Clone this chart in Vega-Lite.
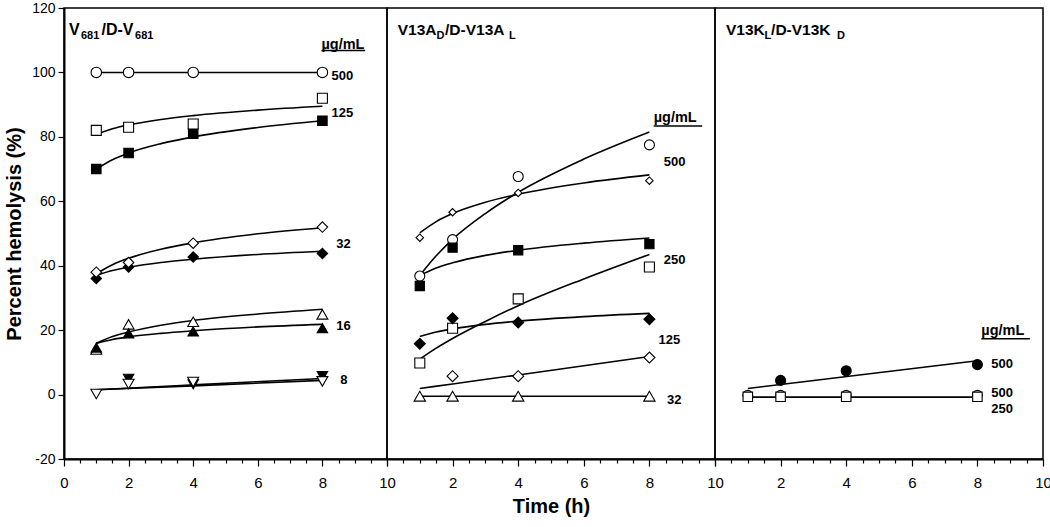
{
  "$schema": "https://vega.github.io/schema/vega-lite/v6.json",
  "padding": {"left": 3, "top": 0, "right": 0, "bottom": 0},
  "background": "white",
  "spacing": 0,
  "bounds": "flush",
  "resolve": {"scale": {"shape": "independent", "fill": "independent", "size": "independent", "x": "independent", "y": "independent"}},
  "config": {
    "font": "Liberation Sans",
    "view": {"stroke": "black", "strokeWidth": 1.5},
    "axis": {"grid": false, "domainColor": "black", "tickColor": "black", "labelColor": "black", "titleColor": "black", "labelFont": "Liberation Sans", "titleFont": "Liberation Sans"}
  },
  "datasets": {
    "pts": [
      {"panel": "A", "series": "A1", "t": 1, "v": 100}, {"panel": "A", "series": "A1", "t": 2, "v": 100}, {"panel": "A", "series": "A1", "t": 4, "v": 100}, {"panel": "A", "series": "A1", "t": 8, "v": 100},
      {"panel": "A", "series": "A3", "t": 1, "v": 70}, {"panel": "A", "series": "A3", "t": 2, "v": 75}, {"panel": "A", "series": "A3", "t": 4, "v": 81}, {"panel": "A", "series": "A3", "t": 8, "v": 85},
      {"panel": "A", "series": "A2", "t": 1, "v": 82}, {"panel": "A", "series": "A2", "t": 2, "v": 83}, {"panel": "A", "series": "A2", "t": 4, "v": 84}, {"panel": "A", "series": "A2", "t": 8, "v": 92},
      {"panel": "A", "series": "A5", "t": 1, "v": 36}, {"panel": "A", "series": "A5", "t": 2, "v": 39.6}, {"panel": "A", "series": "A5", "t": 4, "v": 42.7}, {"panel": "A", "series": "A5", "t": 8, "v": 43.8},
      {"panel": "A", "series": "A4", "t": 1, "v": 38}, {"panel": "A", "series": "A4", "t": 2, "v": 41}, {"panel": "A", "series": "A4", "t": 4, "v": 47}, {"panel": "A", "series": "A4", "t": 8, "v": 52},
      {"panel": "A", "series": "A6", "t": 1, "v": 14}, {"panel": "A", "series": "A6", "t": 2, "v": 21.8}, {"panel": "A", "series": "A6", "t": 4, "v": 22.6}, {"panel": "A", "series": "A6", "t": 8, "v": 24.9},
      {"panel": "A", "series": "A7", "t": 1, "v": 14.6}, {"panel": "A", "series": "A7", "t": 2, "v": 19}, {"panel": "A", "series": "A7", "t": 4, "v": 19.6}, {"panel": "A", "series": "A7", "t": 8, "v": 20.6},
      {"panel": "A", "series": "A9", "t": 2, "v": 4.9}, {"panel": "A", "series": "A9", "t": 4, "v": 3.2}, {"panel": "A", "series": "A9", "t": 8, "v": 5.7},
      {"panel": "A", "series": "A8", "t": 1, "v": 0.2}, {"panel": "A", "series": "A8", "t": 2, "v": 3.3}, {"panel": "A", "series": "A8", "t": 4, "v": 3.9}, {"panel": "A", "series": "A8", "t": 8, "v": 4.1},
      {"panel": "B", "series": "B1", "t": 1, "v": 36.8}, {"panel": "B", "series": "B1", "t": 2, "v": 48.1}, {"panel": "B", "series": "B1", "t": 4, "v": 67.7}, {"panel": "B", "series": "B1", "t": 8, "v": 77.5},
      {"panel": "B", "series": "B2", "t": 1, "v": 48.7}, {"panel": "B", "series": "B2", "t": 2, "v": 56.6}, {"panel": "B", "series": "B2", "t": 4, "v": 62.6}, {"panel": "B", "series": "B2", "t": 8, "v": 66.4},
      {"panel": "B", "series": "B3", "t": 1, "v": 33.7}, {"panel": "B", "series": "B3", "t": 2, "v": 45.6}, {"panel": "B", "series": "B3", "t": 4, "v": 44.8}, {"panel": "B", "series": "B3", "t": 8, "v": 46.7},
      {"panel": "B", "series": "B4", "t": 1, "v": 9.8}, {"panel": "B", "series": "B4", "t": 2, "v": 20.6}, {"panel": "B", "series": "B4", "t": 4, "v": 29.7}, {"panel": "B", "series": "B4", "t": 8, "v": 39.6},
      {"panel": "B", "series": "B5", "t": 1, "v": 15.8}, {"panel": "B", "series": "B5", "t": 2, "v": 23.7}, {"panel": "B", "series": "B5", "t": 4, "v": 22.4}, {"panel": "B", "series": "B5", "t": 8, "v": 23.4},
      {"panel": "B", "series": "B6", "t": 2, "v": 5.7}, {"panel": "B", "series": "B6", "t": 4, "v": 5.7}, {"panel": "B", "series": "B6", "t": 8, "v": 11.5},
      {"panel": "B", "series": "B7", "t": 1, "v": -0.5}, {"panel": "B", "series": "B7", "t": 2, "v": -0.5}, {"panel": "B", "series": "B7", "t": 4, "v": -0.5}, {"panel": "B", "series": "B7", "t": 8, "v": -0.5},
      {"panel": "C", "series": "C1", "t": 2, "v": 4.4}, {"panel": "C", "series": "C1", "t": 4, "v": 7.4}, {"panel": "C", "series": "C1", "t": 8, "v": 9.3},
      {"panel": "C", "series": "C2", "t": 1, "v": -0.2}, {"panel": "C", "series": "C2", "t": 2, "v": -0.2}, {"panel": "C", "series": "C2", "t": 4, "v": -0.2}, {"panel": "C", "series": "C2", "t": 8, "v": -0.2},
      {"panel": "C", "series": "C3", "t": 1, "v": -0.7}, {"panel": "C", "series": "C3", "t": 2, "v": -0.7}, {"panel": "C", "series": "C3", "t": 4, "v": -0.7}, {"panel": "C", "series": "C3", "t": 8, "v": -0.7}
    ],
    "fits": [
      {"panel": "A", "series": "A1", "t": 1, "v": 100}, {"panel": "A", "series": "A1", "t": 8, "v": 100},
      {"panel": "A", "series": "A2", "t": 1, "v": 80.8}, {"panel": "A", "series": "A2", "t": 1.5, "v": 82.5}, {"panel": "A", "series": "A2", "t": 2, "v": 83.7}, {"panel": "A", "series": "A2", "t": 3, "v": 85.4}, {"panel": "A", "series": "A2", "t": 4, "v": 86.6}, {"panel": "A", "series": "A2", "t": 6, "v": 88.3}, {"panel": "A", "series": "A2", "t": 8, "v": 89.5},
      {"panel": "A", "series": "A3", "t": 1, "v": 70}, {"panel": "A", "series": "A3", "t": 1.5, "v": 72.9}, {"panel": "A", "series": "A3", "t": 2, "v": 75}, {"panel": "A", "series": "A3", "t": 3, "v": 77.9}, {"panel": "A", "series": "A3", "t": 4, "v": 80}, {"panel": "A", "series": "A3", "t": 6, "v": 82.9}, {"panel": "A", "series": "A3", "t": 8, "v": 85},
      {"panel": "A", "series": "A4", "t": 1, "v": 37.5}, {"panel": "A", "series": "A4", "t": 1.5, "v": 40.3}, {"panel": "A", "series": "A4", "t": 2, "v": 42.3}, {"panel": "A", "series": "A4", "t": 3, "v": 45.1}, {"panel": "A", "series": "A4", "t": 4, "v": 47.1}, {"panel": "A", "series": "A4", "t": 6, "v": 49.9}, {"panel": "A", "series": "A4", "t": 8, "v": 51.8},
      {"panel": "A", "series": "A5", "t": 1, "v": 37}, {"panel": "A", "series": "A5", "t": 1.5, "v": 38.5}, {"panel": "A", "series": "A5", "t": 2, "v": 39.5}, {"panel": "A", "series": "A5", "t": 3, "v": 41}, {"panel": "A", "series": "A5", "t": 4, "v": 42}, {"panel": "A", "series": "A5", "t": 6, "v": 43.5}, {"panel": "A", "series": "A5", "t": 8, "v": 44.5},
      {"panel": "A", "series": "A6", "t": 1, "v": 15.9}, {"panel": "A", "series": "A6", "t": 1.5, "v": 18}, {"panel": "A", "series": "A6", "t": 2, "v": 19.4}, {"panel": "A", "series": "A6", "t": 3, "v": 21.5}, {"panel": "A", "series": "A6", "t": 4, "v": 23}, {"panel": "A", "series": "A6", "t": 6, "v": 25}, {"panel": "A", "series": "A6", "t": 8, "v": 26.5},
      {"panel": "A", "series": "A7", "t": 1, "v": 15.9}, {"panel": "A", "series": "A7", "t": 1.5, "v": 17.1}, {"panel": "A", "series": "A7", "t": 2, "v": 17.9}, {"panel": "A", "series": "A7", "t": 3, "v": 19}, {"panel": "A", "series": "A7", "t": 4, "v": 19.8}, {"panel": "A", "series": "A7", "t": 6, "v": 21}, {"panel": "A", "series": "A7", "t": 8, "v": 21.8},
      {"panel": "A", "series": "A8", "t": 1, "v": 1.5}, {"panel": "A", "series": "A8", "t": 4, "v": 2.7}, {"panel": "A", "series": "A8", "t": 8, "v": 4.4},
      {"panel": "A", "series": "A9", "t": 1, "v": 1.5}, {"panel": "A", "series": "A9", "t": 4, "v": 3}, {"panel": "A", "series": "A9", "t": 8, "v": 5},
      {"panel": "B", "series": "B1", "t": 1, "v": 37}, {"panel": "B", "series": "B1", "t": 1.5, "v": 43.1}, {"panel": "B", "series": "B1", "t": 2, "v": 48.2}, {"panel": "B", "series": "B1", "t": 3, "v": 56.2}, {"panel": "B", "series": "B1", "t": 4, "v": 62.8}, {"panel": "B", "series": "B1", "t": 6, "v": 73.1}, {"panel": "B", "series": "B1", "t": 8, "v": 81.5},
      {"panel": "B", "series": "B2", "t": 1, "v": 50.2}, {"panel": "B", "series": "B2", "t": 1.5, "v": 53.7}, {"panel": "B", "series": "B2", "t": 2, "v": 56.2}, {"panel": "B", "series": "B2", "t": 3, "v": 59.7}, {"panel": "B", "series": "B2", "t": 4, "v": 62.2}, {"panel": "B", "series": "B2", "t": 6, "v": 65.7}, {"panel": "B", "series": "B2", "t": 8, "v": 68.2},
      {"panel": "B", "series": "B3", "t": 1, "v": 37}, {"panel": "B", "series": "B3", "t": 1.5, "v": 39.3}, {"panel": "B", "series": "B3", "t": 2, "v": 40.9}, {"panel": "B", "series": "B3", "t": 3, "v": 43.2}, {"panel": "B", "series": "B3", "t": 4, "v": 44.8}, {"panel": "B", "series": "B3", "t": 6, "v": 47}, {"panel": "B", "series": "B3", "t": 8, "v": 48.6},
      {"panel": "B", "series": "B4", "t": 1, "v": 11}, {"panel": "B", "series": "B4", "t": 1.5, "v": 14.4}, {"panel": "B", "series": "B4", "t": 2, "v": 17.4}, {"panel": "B", "series": "B4", "t": 3, "v": 22.7}, {"panel": "B", "series": "B4", "t": 4, "v": 27.6}, {"panel": "B", "series": "B4", "t": 6, "v": 35.9}, {"panel": "B", "series": "B4", "t": 8, "v": 43.5},
      {"panel": "B", "series": "B5", "t": 1, "v": 18}, {"panel": "B", "series": "B5", "t": 1.5, "v": 19.4}, {"panel": "B", "series": "B5", "t": 2, "v": 20.4}, {"panel": "B", "series": "B5", "t": 3, "v": 21.8}, {"panel": "B", "series": "B5", "t": 4, "v": 22.8}, {"panel": "B", "series": "B5", "t": 6, "v": 24.2}, {"panel": "B", "series": "B5", "t": 8, "v": 25.2},
      {"panel": "B", "series": "B6", "t": 1, "v": 1.9}, {"panel": "B", "series": "B6", "t": 2, "v": 3.3}, {"panel": "B", "series": "B6", "t": 4, "v": 6.1}, {"panel": "B", "series": "B6", "t": 8, "v": 11.8},
      {"panel": "B", "series": "B7", "t": 1, "v": -0.5}, {"panel": "B", "series": "B7", "t": 8, "v": -0.5},
      {"panel": "C", "series": "C1", "t": 1, "v": 1.9}, {"panel": "C", "series": "C1", "t": 8, "v": 10.5},
      {"panel": "C", "series": "C3", "t": 1, "v": -0.8}, {"panel": "C", "series": "C3", "t": 8, "v": -0.8}
    ],
    "units": [
      {"panel": "A", "label": "µg/mL", "t": 7.97, "v": 108.6},
      {"panel": "B", "label": "µg/mL", "t": 8.13, "v": 86.0},
      {"panel": "C", "label": "µg/mL", "t": 8.12, "v": 19.6}
    ],
    "concs": [
      {"panel": "A", "label": "500", "t": 8.28, "v": 98.9},
      {"panel": "A", "label": "125", "t": 8.28, "v": 87.5},
      {"panel": "A", "label": "32", "t": 8.43, "v": 46.7},
      {"panel": "A", "label": "16", "t": 8.43, "v": 21.4},
      {"panel": "A", "label": "8", "t": 8.55, "v": 4.6},
      {"panel": "B", "label": "500", "t": 8.44, "v": 72.1},
      {"panel": "B", "label": "250", "t": 8.44, "v": 41.7},
      {"panel": "B", "label": "125", "t": 8.28, "v": 17.0},
      {"panel": "B", "label": "32", "t": 8.54, "v": -1.8},
      {"panel": "C", "label": "500", "t": 8.42, "v": 9.6},
      {"panel": "C", "label": "500", "t": 8.42, "v": 0.5},
      {"panel": "C", "label": "250", "t": 8.42, "v": -4.6}
    ],
    "unders": [
      {"panel": "A", "t": 7.97, "t2": 9.32, "v": 106.8},
      {"panel": "B", "t": 8.13, "t2": 9.61, "v": 83.4},
      {"panel": "C", "t": 8.12, "t2": 9.6, "v": 17.3}
    ],
    "mains": [
      {"panel": "A", "text": "V", "t": 0.155, "v": 111.6},
      {"panel": "A", "text": "/D-V", "t": 1.16, "v": 111.6},
      {"panel": "B", "text": "V13A", "t": 0.326, "v": 111.6},
      {"panel": "B", "text": "/D-V13A", "t": 1.77, "v": 111.6},
      {"panel": "C", "text": "V13K", "t": 0.335, "v": 111.6},
      {"panel": "C", "text": "/D-V13K", "t": 1.71, "v": 111.6}
    ],
    "subs": [
      {"panel": "A", "text": "681", "t": 0.526, "v": 110.5},
      {"panel": "A", "text": "681", "t": 2.2, "v": 110.5},
      {"panel": "B", "text": "D", "t": 1.51, "v": 110.5},
      {"panel": "B", "text": "L", "t": 3.72, "v": 110.5},
      {"panel": "C", "text": "L", "t": 1.51, "v": 110.5},
      {"panel": "C", "text": "D", "t": 3.72, "v": 110.5}
    ]
  },
  "hconcat": [
    {
      "width": 323, "height": 451,
      "encoding": {
        "x": {"field": "t", "type": "quantitative", "scale": {"domain": [0, 10], "nice": false, "zero": false},
          "axis": {"values": [0,0.5,1,1.5,2,2.5,3,3.5,4,4.5,5,5.5,6,6.5,7,7.5,8,8.5,9,9.5,10], "labelExpr": "datum.value % 2 === 0 ? '' + datum.value : ''", "labelFlush": false, "labelOverlap": false, "labelFontSize": 15, "labelPadding": 9, "tickSize": {"condition": {"test": "datum.value % 2 !== 0", "value": 4}, "value": 7}, "tickWidth": 1.2, "domainWidth": 2, "title": null}},
        "y": {"field": "v", "type": "quantitative", "scale": {"domain": [-20, 120], "nice": false, "zero": false},
          "axis": {"values": [-20,0,20,40,60,80,100,120], "labelExpr": "'' + datum.value", "labelFontSize": 14, "labelPadding": 3, "tickSize": 6, "tickWidth": 1.2, "domainWidth": 2, "title": "Percent hemolysis (%)", "titleFontSize": 20, "titleFontWeight": "bold", "titlePadding": 7}}
      },
      "layer": [
        {"data": {"name": "fits"}, "transform": [{"filter": "datum.panel === 'A'"}], "mark": {"type": "line", "interpolate": "monotone", "color": "black", "strokeWidth": 1.6}, "encoding": {"detail": {"field": "series"}}},
        {"data": {"name": "pts"}, "transform": [{"filter": "datum.panel === 'A'"}], "mark": {"type": "point", "filled": true, "stroke": "black", "strokeWidth": 1.1, "opacity": 1},
          "encoding": {
            "shape": {"field": "series", "scale": {"domain": ["A1","A2","A3","A4","A5","A6","A7","A8","A9"], "range": ["circle","square","square","diamond","diamond","triangle-up","triangle-up","triangle-down","triangle-down"]}, "legend": null},
            "fill": {"field": "series", "scale": {"domain": ["A1","A2","A3","A4","A5","A6","A7","A8","A9"], "range": ["white","white","black","white","black","white","black","white","black"]}, "legend": null},
            "size": {"field": "series", "scale": {"type": "ordinal", "domain": ["A1","A2","A3","A4","A5","A6","A7","A8","A9"], "range": [110,100,90,110,110,120,110,120,110]}, "legend": null}}},
        {"data": {"name": "units"}, "transform": [{"filter": "datum.panel === 'A'"}], "mark": {"type": "text", "align": "left", "baseline": "middle", "fontWeight": "bold", "fontSize": 14.5, "color": "black"}, "encoding": {"text": {"field": "label"}}},
        {"data": {"name": "concs"}, "transform": [{"filter": "datum.panel === 'A'"}], "mark": {"type": "text", "align": "left", "baseline": "middle", "fontWeight": "bold", "fontSize": 13, "color": "black"}, "encoding": {"text": {"field": "label"}}},
        {"data": {"name": "mains"}, "transform": [{"filter": "datum.panel === 'A'"}], "mark": {"type": "text", "align": "left", "baseline": "alphabetic", "fontWeight": "bold", "fontSize": 16, "color": "black"}, "encoding": {"text": {"field": "text"}}},
        {"data": {"name": "subs"}, "transform": [{"filter": "datum.panel === 'A'"}], "mark": {"type": "text", "align": "left", "baseline": "alphabetic", "fontWeight": "bold", "fontSize": 11, "color": "black"}, "encoding": {"text": {"field": "text"}}},
        {"data": {"name": "unders"}, "transform": [{"filter": "datum.panel === 'A'"}], "mark": {"type": "rule", "color": "black", "strokeWidth": 1.5}, "encoding": {"x2": {"field": "t2"}}}
      ]
    },
    {
      "width": 328, "height": 451,
      "encoding": {
        "x": {"field": "t", "type": "quantitative", "scale": {"domain": [0, 10], "nice": false, "zero": false},
          "axis": {"values": [0,0.5,1,1.5,2,2.5,3,3.5,4,4.5,5,5.5,6,6.5,7,7.5,8,8.5,9,9.5,10], "labelExpr": "datum.value % 2 === 0 && datum.value > 0 ? '' + datum.value : ''", "labelFlush": false, "labelOverlap": false, "labelFontSize": 15, "labelPadding": 9, "tickSize": {"condition": {"test": "datum.value % 2 !== 0", "value": 4}, "value": 7}, "tickWidth": 1.2, "domainWidth": 2, "title": "Time (h)", "titleFontSize": 20, "titleFontWeight": "bold", "titlePadding": 6}},
        "y": {"field": "v", "type": "quantitative", "scale": {"domain": [-20, 120], "nice": false, "zero": false}, "axis": null}
      },
      "layer": [
        {"data": {"name": "fits"}, "transform": [{"filter": "datum.panel === 'B'"}], "mark": {"type": "line", "interpolate": "monotone", "color": "black", "strokeWidth": 1.6}, "encoding": {"detail": {"field": "series"}}},
        {"data": {"name": "pts"}, "transform": [{"filter": "datum.panel === 'B'"}], "mark": {"type": "point", "filled": true, "stroke": "black", "strokeWidth": 1.1, "opacity": 1},
          "encoding": {
            "shape": {"field": "series", "scale": {"domain": ["B1","B2","B3","B4","B5","B6","B7"], "range": ["circle","diamond","square","square","diamond","diamond","triangle-up"]}, "legend": null},
            "fill": {"field": "series", "scale": {"domain": ["B1","B2","B3","B4","B5","B6","B7"], "range": ["white","white","black","white","black","white","white"]}, "legend": null},
            "size": {"field": "series", "scale": {"type": "ordinal", "domain": ["B1","B2","B3","B4","B5","B6","B7"], "range": [100,55,85,100,120,120,130]}, "legend": null}}},
        {"data": {"name": "units"}, "transform": [{"filter": "datum.panel === 'B'"}], "mark": {"type": "text", "align": "left", "baseline": "middle", "fontWeight": "bold", "fontSize": 14.5, "color": "black"}, "encoding": {"text": {"field": "label"}}},
        {"data": {"name": "concs"}, "transform": [{"filter": "datum.panel === 'B'"}], "mark": {"type": "text", "align": "left", "baseline": "middle", "fontWeight": "bold", "fontSize": 13, "color": "black"}, "encoding": {"text": {"field": "label"}}},
        {"data": {"name": "mains"}, "transform": [{"filter": "datum.panel === 'B'"}], "mark": {"type": "text", "align": "left", "baseline": "alphabetic", "fontWeight": "bold", "fontSize": 15.5, "color": "black"}, "encoding": {"text": {"field": "text"}}},
        {"data": {"name": "subs"}, "transform": [{"filter": "datum.panel === 'B'"}], "mark": {"type": "text", "align": "left", "baseline": "alphabetic", "fontWeight": "bold", "fontSize": 11, "color": "black"}, "encoding": {"text": {"field": "text"}}},
        {"data": {"name": "unders"}, "transform": [{"filter": "datum.panel === 'B'"}], "mark": {"type": "rule", "color": "black", "strokeWidth": 1.5}, "encoding": {"x2": {"field": "t2"}}}
      ]
    },
    {
      "width": 328, "height": 451,
      "encoding": {
        "x": {"field": "t", "type": "quantitative", "scale": {"domain": [0, 10], "nice": false, "zero": false},
          "axis": {"values": [0,0.5,1,1.5,2,2.5,3,3.5,4,4.5,5,5.5,6,6.5,7,7.5,8,8.5,9,9.5,10], "labelExpr": "datum.value % 2 === 0 && datum.value > 0 ? '' + datum.value : ''", "labelFlush": false, "labelOverlap": false, "labelFontSize": 15, "labelPadding": 9, "tickSize": {"condition": {"test": "datum.value % 2 !== 0", "value": 4}, "value": 7}, "tickWidth": 1.2, "domainWidth": 2, "title": null}},
        "y": {"field": "v", "type": "quantitative", "scale": {"domain": [-20, 120], "nice": false, "zero": false}, "axis": null}
      },
      "layer": [
        {"data": {"name": "fits"}, "transform": [{"filter": "datum.panel === 'C'"}], "mark": {"type": "line", "interpolate": "monotone", "color": "black", "strokeWidth": 1.6}, "encoding": {"detail": {"field": "series"}}},
        {"data": {"name": "pts"}, "transform": [{"filter": "datum.panel === 'C'"}], "mark": {"type": "point", "filled": true, "stroke": "black", "strokeWidth": 1.1, "opacity": 1},
          "encoding": {
            "shape": {"field": "series", "scale": {"domain": ["C1","C2","C3"], "range": ["circle","circle","square"]}, "legend": null},
            "fill": {"field": "series", "scale": {"domain": ["C1","C2","C3"], "range": ["black","white","white"]}, "legend": null},
            "size": {"field": "series", "scale": {"type": "ordinal", "domain": ["C1","C2","C3"], "range": [100,95,90]}, "legend": null}}},
        {"data": {"name": "units"}, "transform": [{"filter": "datum.panel === 'C'"}], "mark": {"type": "text", "align": "left", "baseline": "middle", "fontWeight": "bold", "fontSize": 14.5, "color": "black"}, "encoding": {"text": {"field": "label"}}},
        {"data": {"name": "concs"}, "transform": [{"filter": "datum.panel === 'C'"}], "mark": {"type": "text", "align": "left", "baseline": "middle", "fontWeight": "bold", "fontSize": 13, "color": "black"}, "encoding": {"text": {"field": "label"}}},
        {"data": {"name": "mains"}, "transform": [{"filter": "datum.panel === 'C'"}], "mark": {"type": "text", "align": "left", "baseline": "alphabetic", "fontWeight": "bold", "fontSize": 15.5, "color": "black"}, "encoding": {"text": {"field": "text"}}},
        {"data": {"name": "subs"}, "transform": [{"filter": "datum.panel === 'C'"}], "mark": {"type": "text", "align": "left", "baseline": "alphabetic", "fontWeight": "bold", "fontSize": 11, "color": "black"}, "encoding": {"text": {"field": "text"}}},
        {"data": {"name": "unders"}, "transform": [{"filter": "datum.panel === 'C'"}], "mark": {"type": "rule", "color": "black", "strokeWidth": 1.5}, "encoding": {"x2": {"field": "t2"}}}
      ]
    }
  ]
}
